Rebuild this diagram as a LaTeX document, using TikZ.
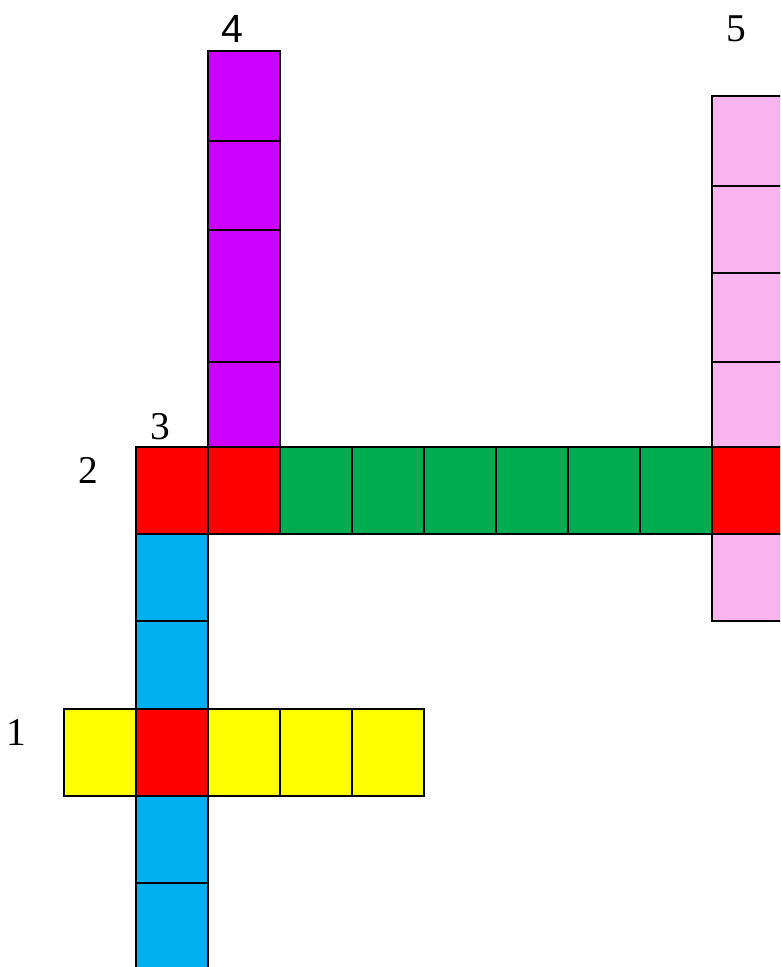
\documentclass[tikz,border=0pt]{standalone}
\usepackage{fontspec}
\setmainfont{Liberation Serif}
\newfontfamily\sansnum{Liberation Sans}
\definecolor{crossfill}{HTML}{FF0000}
\definecolor{onefill}{HTML}{FFFF00}
\definecolor{twofill}{HTML}{00AC4F}
\definecolor{threefill}{HTML}{00B0F0}
\definecolor{fourfill}{HTML}{CC00FF}
\definecolor{fivefill}{HTML}{F8B4EE}
\tikzset{
  cell/.style={rectangle, draw=black, line width=1.4pt, minimum width=1.8cm, minimum height=2.18cm, inner sep=0pt, outer sep=0pt},
  cross/.style={cell, fill=crossfill},
  one/.style={cell, fill=onefill},
  two/.style={cell, fill=twofill},
  three/.style={cell, fill=threefill},
  four/.style={cell, fill=fourfill},
  five/.style={cell, fill=fivefill},
  number/.style={font=\fontsize{28}{30}\selectfont, inner sep=0pt}
}

\begin{document}
\begin{tikzpicture}

\useasboundingbox (0,0) rectangle (19.5,-24.175);
\clip (0,0) rectangle (19.5,-24.175);

% word 4
\node[four, minimum height=2.25cm] (w4a) at (6.1, -2.4) {};
\node[four, minimum height=2.225cm] (w4b) at (6.1, -4.6375) {};
\node[four, minimum height=3.3cm] (w4c) at (6.1, -7.4) {};
\node[four, minimum height=2.125cm] (w4d) at (6.1, -10.1125) {};

% word 5
\node[five, minimum height=2.25cm] (w5a) at (18.7, -3.525) {};
\node[five, minimum height=2.175cm] (w5b) at (18.7, -5.7375) {};
\node[five, minimum height=2.225cm] (w5c) at (18.7, -7.9375) {};
\node[five, minimum height=2.125cm] (w5d) at (18.7, -10.1125) {};
\node[five] (w5f) at (18.7, -14.445) {};

% word 2
\node[cross] (w2a) at (4.3, -12.265) {};
\node[cross] (w2b) at (6.1, -12.265) {};
\node[two] (w2c) at (7.9, -12.265) {};
\node[two] (w2d) at (9.7, -12.265) {};
\node[two] (w2e) at (11.5, -12.265) {};
\node[two] (w2f) at (13.3, -12.265) {};
\node[two] (w2g) at (15.1, -12.265) {};
\node[two] (w2h) at (16.9, -12.265) {};
\node[cross] (w2i) at (18.7, -12.265) {};

% word 3
\node[three] (w3b) at (4.3, -14.445) {};
\node[three] (w3c) at (4.3, -16.625) {};
\node[three] (w3e) at (4.3, -20.985) {};
\node[three] (w3f) at (4.3, -23.165) {};

% word 1
\node[one] (w1a) at (2.5, -18.805) {};
\node[cross] (w1b) at (4.3, -18.805) {};
\node[one] (w1c) at (6.1, -18.805) {};
\node[one] (w1d) at (7.9, -18.805) {};
\node[one] (w1e) at (9.7, -18.805) {};

% numbers
\node[number] (n1) at (0.4, -18.3) {1};
\node[number] (n2) at (2.2, -11.75) {2};
\node[number] (n3) at (4.0, -10.675) {3};
\node[number, font=\sansnum\fontsize{28}{30}\selectfont] (n4) at (5.8, -0.725) {4};
\node[number] (n5) at (18.4, -0.725) {5};

\end{tikzpicture}
\end{document}
